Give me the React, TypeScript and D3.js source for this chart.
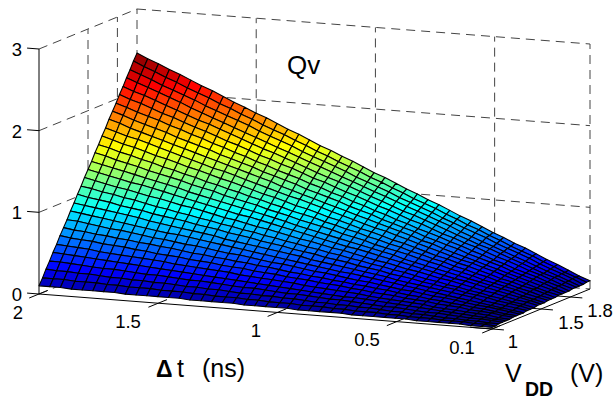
import * as d3 from "d3";

const width = 613;
const height = 400;

// grid of the surface
const dtValues = [
  2, 1.955, 1.91, 1.864, 1.819, 1.774, 1.729, 1.683, 1.638, 1.593, 1.548, 1.502, 1.457, 1.412, 1.367, 1.321, 1.276,
  1.231, 1.186, 1.14, 1.095, 1.05, 1.005, 0.96, 0.914, 0.869, 0.824, 0.779, 0.733, 0.688, 0.643, 0.598, 0.552, 0.507,
  0.462, 0.417, 0.371, 0.326, 0.281, 0.236, 0.19, 0.145, 0.1,
];
const vddValues = [
  1, 1.036, 1.071, 1.107, 1.143, 1.179, 1.214, 1.25, 1.286, 1.321, 1.357, 1.393, 1.429, 1.464, 1.5, 1.536, 1.571,
  1.607, 1.643, 1.679, 1.714, 1.75, 1.786, 1.821, 1.857, 1.893, 1.929, 1.964, 2,
];

// Qv, one row per VDD value, one column per dt value
const qv = [
  [.10,.10,.10,.09,.09,.09,.09,.09,.08,.08,.08,.08,.08,.08,.07,.07,.07,.07,.07,.06,.06,.06,.06,.06,.05,.05,.05,.05,.05,.04,.04,.04,.04,.04,.04,.03,.03,.03,.03,.03,.02,.02,.02],
  [.18,.18,.18,.17,.17,.17,.16,.16,.15,.15,.15,.14,.14,.14,.13,.13,.12,.12,.12,.11,.11,.10,.10,.10,.09,.09,.09,.08,.08,.07,.07,.07,.06,.06,.05,.05,.05,.04,.04,.04,.03,.03,.02],
  [.27,.26,.26,.25,.25,.24,.23,.23,.22,.22,.21,.21,.20,.19,.19,.18,.18,.17,.16,.16,.15,.15,.14,.14,.13,.12,.12,.11,.11,.10,.10,.09,.08,.08,.07,.07,.06,.05,.05,.04,.04,.03,.03],
  [.35,.35,.34,.33,.32,.31,.31,.30,.29,.28,.28,.27,.26,.25,.25,.24,.23,.22,.21,.21,.20,.19,.18,.18,.17,.16,.15,.15,.14,.13,.12,.11,.11,.10,.09,.08,.08,.07,.06,.05,.05,.04,.03],
  [.44,.43,.42,.41,.40,.39,.38,.37,.36,.35,.34,.33,.32,.31,.30,.29,.28,.27,.26,.25,.24,.23,.22,.21,.20,.19,.18,.17,.17,.16,.15,.14,.13,.12,.11,.10,.09,.08,.07,.06,.05,.04,.03],
  [.52,.51,.50,.49,.47,.46,.45,.44,.43,.42,.41,.39,.38,.37,.36,.35,.34,.32,.31,.30,.29,.28,.27,.25,.24,.23,.22,.21,.20,.18,.17,.16,.15,.14,.13,.11,.10,.09,.08,.07,.06,.04,.03],
  [.61,.59,.58,.57,.55,.54,.53,.51,.50,.48,.47,.46,.44,.43,.42,.40,.39,.38,.36,.35,.34,.32,.31,.30,.28,.27,.26,.24,.23,.21,.20,.19,.17,.16,.15,.13,.12,.11,.09,.08,.07,.05,.04],
  [.69,.67,.66,.64,.63,.61,.60,.58,.57,.55,.54,.52,.50,.49,.47,.46,.44,.43,.41,.40,.38,.36,.35,.33,.32,.30,.29,.27,.26,.24,.23,.21,.19,.18,.16,.15,.13,.12,.10,.09,.07,.05,.04],
  [.77,.76,.74,.72,.70,.69,.67,.65,.63,.62,.60,.58,.57,.55,.53,.51,.50,.48,.46,.44,.43,.41,.39,.37,.36,.34,.32,.30,.29,.27,.25,.23,.22,.20,.18,.17,.15,.13,.11,.10,.08,.06,.04],
  [.86,.84,.82,.80,.78,.76,.74,.72,.70,.68,.67,.65,.63,.61,.59,.57,.55,.53,.51,.49,.47,.45,.43,.41,.39,.37,.36,.34,.32,.30,.28,.26,.24,.22,.20,.18,.16,.14,.12,.10,.08,.06,.04],
  [.94,.92,.90,.88,.86,.84,.82,.79,.77,.75,.73,.71,.69,.67,.64,.62,.60,.58,.56,.54,.52,.50,.47,.45,.43,.41,.39,.37,.35,.33,.30,.28,.26,.24,.22,.20,.18,.16,.13,.11,.09,.07,.05],
  [1.03,1.00,.98,.96,.93,.91,.89,.86,.84,.82,.80,.77,.75,.73,.70,.68,.66,.63,.61,.59,.56,.54,.52,.49,.47,.45,.42,.40,.38,.35,.33,.31,.28,.26,.24,.22,.19,.17,.15,.12,.10,.08,.05],
  [1.11,1.09,1.06,1.04,1.01,.99,.96,.93,.91,.88,.86,.83,.81,.78,.76,.73,.71,.68,.66,.63,.61,.58,.56,.53,.51,.48,.46,.43,.41,.38,.36,.33,.30,.28,.25,.23,.20,.18,.15,.13,.10,.08,.05],
  [1.20,1.17,1.14,1.11,1.09,1.06,1.03,1.01,.98,.95,.93,.90,.87,.84,.82,.79,.76,.74,.71,.68,.65,.63,.60,.57,.55,.52,.49,.46,.44,.41,.38,.36,.33,.30,.28,.25,.22,.19,.17,.14,.11,.09,.06],
  [1.28,1.25,1.22,1.19,1.16,1.14,1.11,1.08,1.05,1.02,.99,.96,.93,.90,.87,.85,.82,.79,.76,.73,.70,.67,.64,.61,.58,.56,.53,.50,.47,.44,.41,.38,.35,.32,.29,.27,.24,.21,.18,.15,.12,.09,.06],
  [1.36,1.33,1.30,1.27,1.24,1.21,1.18,1.15,1.12,1.08,1.05,1.02,.99,.96,.93,.90,.87,.84,.81,.77,.74,.71,.68,.65,.62,.59,.56,.53,.50,.46,.43,.40,.37,.34,.31,.28,.25,.22,.19,.16,.12,.09,.06],
  [1.45,1.42,1.38,1.35,1.32,1.28,1.25,1.22,1.19,1.15,1.12,1.09,1.05,1.02,.99,.96,.92,.89,.86,.82,.79,.76,.73,.69,.66,.63,.59,.56,.53,.50,.46,.43,.40,.36,.33,.30,.26,.23,.20,.17,.13,.10,.07],
  [1.53,1.50,1.46,1.43,1.39,1.36,1.32,1.29,1.25,1.22,1.18,1.15,1.11,1.08,1.04,1.01,.97,.94,.90,.87,.84,.80,.77,.73,.70,.66,.63,.59,.56,.52,.49,.45,.42,.38,.35,.31,.28,.24,.21,.17,.14,.10,.07],
  [1.62,1.58,1.54,1.51,1.47,1.43,1.40,1.36,1.32,1.29,1.25,1.21,1.18,1.14,1.10,1.06,1.03,.99,.95,.92,.88,.84,.81,.77,.73,.70,.66,.62,.59,.55,.51,.47,.44,.40,.37,.33,.29,.25,.22,.18,.15,.11,.07],
  [1.70,1.66,1.62,1.59,1.55,1.51,1.47,1.43,1.39,1.35,1.31,1.28,1.24,1.20,1.16,1.12,1.08,1.04,1.01,.97,.93,.89,.85,.81,.77,.73,.70,.66,.62,.58,.54,.50,.46,.42,.39,.35,.31,.27,.23,.19,.15,.11,.08],
  [1.79,1.75,1.70,1.66,1.62,1.58,1.54,1.50,1.46,1.42,1.38,1.34,1.30,1.26,1.22,1.18,1.13,1.09,1.05,1.01,.97,.93,.89,.85,.81,.77,.73,.69,.65,.60,.57,.52,.48,.44,.40,.36,.32,.28,.24,.20,.16,.12,.08],
  [1.87,1.83,1.78,1.74,1.70,1.66,1.61,1.57,1.53,1.49,1.44,1.40,1.36,1.32,1.27,1.23,1.19,1.15,1.10,1.06,1.02,.98,.93,.89,.85,.80,.76,.72,.68,.63,.59,.55,.51,.46,.42,.38,.34,.29,.25,.21,.17,.12,.08],
  [1.95,1.91,1.86,1.82,1.78,1.73,1.69,1.64,1.60,1.55,1.51,1.46,1.42,1.37,1.33,1.28,1.24,1.20,1.15,1.11,1.06,1.02,.97,.93,.88,.84,.79,.75,.70,.66,.62,.57,.53,.48,.44,.39,.35,.30,.26,.22,.17,.13,.08],
  [2.04,1.99,1.95,1.90,1.85,1.81,1.76,1.71,1.67,1.62,1.57,1.53,1.48,1.43,1.39,1.34,1.30,1.25,1.20,1.16,1.11,1.06,1.02,.97,.92,.88,.83,.78,.74,.69,.64,.60,.55,.51,.46,.41,.37,.32,.27,.23,.18,.13,.09],
  [2.12,2.07,2.03,1.98,1.93,1.88,1.83,1.78,1.74,1.69,1.64,1.59,1.54,1.49,1.45,1.40,1.35,1.30,1.25,1.20,1.16,1.11,1.06,1.01,.96,.91,.86,.82,.77,.72,.67,.62,.57,.52,.48,.43,.38,.33,.28,.23,.19,.14,.09],
  [2.21,2.16,2.11,2.06,2.01,1.96,1.90,1.85,1.80,1.75,1.70,1.65,1.60,1.55,1.50,1.45,1.40,1.35,1.30,1.25,1.20,1.15,1.10,1.05,1.00,.95,.90,.85,.80,.75,.70,.64,.59,.54,.49,.44,.39,.34,.29,.24,.19,.14,.09],
  [2.29,2.24,2.19,2.13,2.08,2.03,1.98,1.92,1.87,1.82,1.77,1.72,1.66,1.61,1.56,1.51,1.45,1.40,1.35,1.30,1.25,1.19,1.14,1.09,1.04,.98,.93,.88,.83,.77,.72,.67,.62,.57,.51,.46,.41,.36,.30,.25,.20,.15,.09],
  [2.38,2.32,2.27,2.21,2.16,2.10,2.05,2.00,1.94,1.89,1.83,1.78,1.72,1.67,1.62,1.56,1.51,1.45,1.40,1.34,1.29,1.24,1.18,1.13,1.07,1.02,.96,.91,.86,.80,.75,.69,.64,.58,.53,.47,.42,.37,.31,.26,.20,.15,.10],
  [2.46,2.40,2.35,2.29,2.24,2.18,2.12,2.07,2.01,1.95,1.90,1.84,1.79,1.73,1.67,1.62,1.56,1.50,1.45,1.39,1.34,1.28,1.22,1.17,1.11,1.05,1.00,.94,.89,.83,.77,.72,.66,.60,.55,.49,.44,.38,.32,.27,.21,.15,.10],
];

// tick labels
const zTicks = [0, 1, 2, 3];
const dtTicks = [2, 1.5, 1, 0.5, 0.1];
const vddTicks = [1, 1.5, 1.8];

// box of the axes on screen (orthographic view)
const origin = [39, 294]; // dt = 2, VDD = 1, z = 0
const dtVec = [453, 35];
const vddVec = [98, -40];

const dtScale = d3.scaleLinear().domain([2, 0.1]).range([0, 1]);
const vddScale = d3.scaleLinear().domain([1, 2]).range([0, 1]);
const zScale = d3.scaleLinear().domain([0, 3]).range([0, -245]);

const project = (dt: number, vdd: number, z: number): [number, number] => {
  const u = dtScale(dt);
  const w = vddScale(vdd);
  return [origin[0] + u * dtVec[0] + w * vddVec[0], origin[1] + u * dtVec[1] + w * vddVec[1] + zScale(z)];
};

// matlab jet
const jetStops = [0, 0.11, 0.36, 0.61, 0.86, 1];
const jetColors = ["#00008f", "#0000ff", "#00ffff", "#ffff00", "#ff0000", "#800000"];
const zMin = 0.02;
const zMax = 2.46;
const colorScale = d3
  .scaleLinear<string>()
  .domain(jetStops.map((f) => zMin + f * (zMax - zMin)))
  .range(jetColors)
  .clamp(true);

const line = d3.line();
const dash = "9 6";
const gridColor = "#444";
const font = "'Liberation Sans', Arial, sans-serif";

const Grid = ({ a, b }: { a: [number, number]; b: [number, number] }) => (
  <path d={line([a, b]) as string} fill="none" stroke={gridColor} strokeWidth={1} strokeDasharray={dash} />
);

const Solid = ({ a, b }: { a: [number, number]; b: [number, number] }) => (
  <path d={line([a, b]) as string} fill="none" stroke="#000" strokeWidth={1} />
);

export default function App() {
  const cells: JSX.Element[] = [];
  // back to front
  for (let i = vddValues.length - 2; i >= 0; i--) {
    for (let j = 0; j < dtValues.length - 1; j++) {
      const corners: [number, number, number][] = [
        [dtValues[j], vddValues[i], qv[i][j]],
        [dtValues[j + 1], vddValues[i], qv[i][j + 1]],
        [dtValues[j + 1], vddValues[i + 1], qv[i + 1][j + 1]],
        [dtValues[j], vddValues[i + 1], qv[i + 1][j]],
      ];
      const pts = corners.map((c) => project(c[0], c[1], c[2]));
      cells.push(
        <path
          key={`${i}-${j}`}
          d={`${line(pts)}Z`}
          fill={colorScale(d3.mean(corners, (c) => c[2]) as number)}
          stroke="#000"
          strokeWidth={1.1}
          strokeLinejoin="round"
        />
      );
    }
  }

  const dtMax = 2;
  const dtMin = 0.1;
  const vMin = 1;
  const vMax = 2;
  const zTop = 3;

  return (
    <svg
      width={width}
      height={height}
      viewBox={`0 0 ${width} ${height}`}
      style={{ position: "absolute", left: 0, top: 0, background: "#fff" }}
      fontFamily={font}
    >
      {/* walls */}
      <g>
        {zTicks.map((z) => (
          <g key={z}>
            <Grid a={project(dtMax, vMin, z)} b={project(dtMax, vMax, z)} />
            <Grid a={project(dtMax, vMax, z)} b={project(dtMin, vMax, z)} />
          </g>
        ))}
        {dtTicks.map((d) => (
          <Grid key={d} a={project(d, vMax, 0)} b={project(d, vMax, zTop)} />
        ))}
        {vddTicks.slice(1).map((v) => (
          <Grid key={v} a={project(dtMax, v, 0)} b={project(dtMax, v, zTop)} />
        ))}
      </g>

      {/* axes */}
      <Solid a={project(dtMax, vMin, 0)} b={project(dtMax, vMin, zTop)} />
      <Solid a={project(dtMax, vMin, 0)} b={project(dtMin, vMin, 0)} />
      <Solid a={project(dtMin, vMin, 0)} b={project(dtMin, vMax, 0)} />
      {zTicks.map((z) => (
        <Solid key={z} a={project(dtMax + 0.05, vMin, z)} b={project(dtMax, vMin, z)} />
      ))}
      {dtTicks.map((d) => (
        <Solid key={d} a={project(d, vMin - 0.1, 0)} b={project(d, vMin + 0.09, 0)} />
      ))}
      {vddTicks.map((v) => (
        <Solid key={v} a={project(dtMin + 0.09, v, 0)} b={project(dtMin - 0.05, v, 0)} />
      ))}

      <g>{cells}</g>

      {/* tick labels */}
      <g fontSize={18.5} textAnchor="middle" fill="#000">
        {zTicks.map((z) => (
          <text key={z} x={17} y={project(dtMax, vMin, z)[1] + 7}>
            {z}
          </text>
        ))}
        <text x={18} y={319}>2</text>
        <text x={128} y={328}>1.5</text>
        <text x={256} y={336.5}>1</text>
        <text x={367} y={346}>0.5</text>
        <text x={462} y={354}>0.1</text>
        <text x={513} y={348}>1</text>
        <text x={571} y={329}>1.5</text>
        <text x={600} y={316.5}>1.8</text>
      </g>

      {/* titles */}
      <text x={287} y={74} fontSize={26}>Qv</text>
      <text x={156} y={377} fontSize={23} fontWeight="bold">Δ</text>
      <text x={177} y={377} fontSize={25}>t</text>
      <text x={202} y={377} fontSize={25}>(ns)</text>
      <text x={505} y={382} fontSize={25}>V</text>
      <text x={525} y={396} fontSize={19.5} fontWeight="bold">DD</text>
      <text x={570} y={382} fontSize={25}>(V)</text>
    </svg>
  );
}
